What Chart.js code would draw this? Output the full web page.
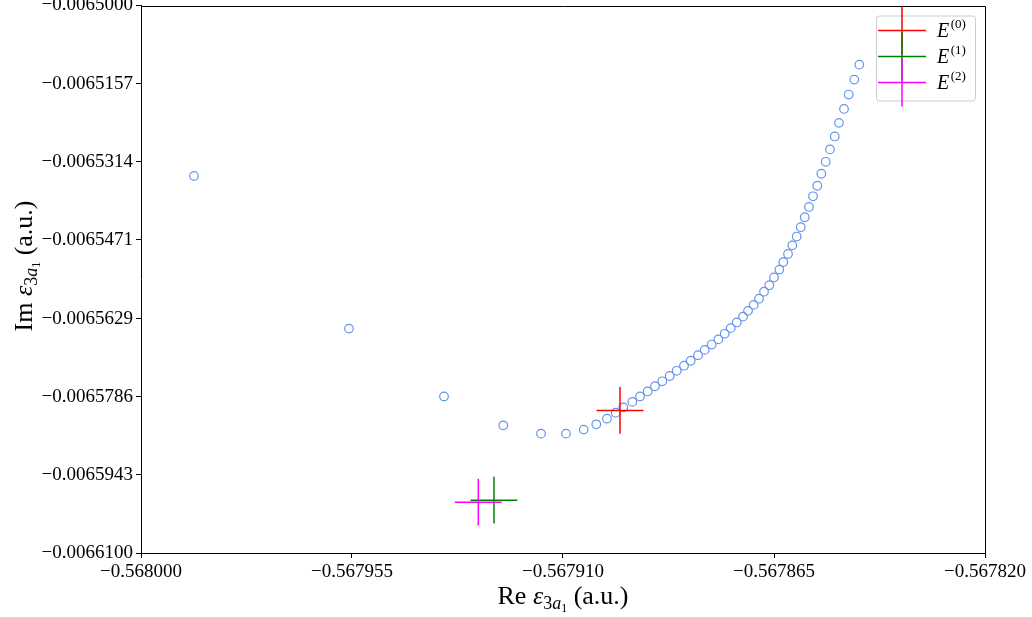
<!DOCTYPE html>
<html>
<head>
<meta charset="utf-8">
<script src="https://cdn.jsdelivr.net/npm/chart.js@4/dist/chart.umd.min.js"></script>
<style>
  html, body { margin: 0; padding: 0; background: #ffffff; }
  #c { display: block; }
</style>
</head>
<body>
<canvas id="c" width="1032" height="617"></canvas>
<script>
// ---- data ----
const reValues = [
  -0.56798870, -0.56795564, -0.56793538, -0.56792273, -0.56791469, -0.56790936,
  -0.56790559, -0.56790290, -0.56790062, -0.56789876, -0.56789714, -0.56789522,
  -0.56789358, -0.56789194, -0.56789038, -0.56788882, -0.56788724, -0.56788575,
  -0.56788419, -0.56788277, -0.56788121, -0.56787978, -0.56787829, -0.56787688,
  -0.56787551, -0.56787423, -0.56787295, -0.56787161, -0.56787054, -0.56786933,
  -0.56786820, -0.56786713, -0.56786600, -0.56786500, -0.56786387, -0.56786302,
  -0.56786201, -0.56786110, -0.56786016, -0.56785930, -0.56785845, -0.56785754,
  -0.56785668, -0.56785577, -0.56785491, -0.56785397, -0.56785306, -0.56785205,
  -0.56785114, -0.56785007, -0.56784907, -0.56784787, -0.56784680
];
const imValues = [
  -0.00653426, -0.00656492, -0.00657854, -0.00658435, -0.00658602, -0.00658602,
  -0.00658521, -0.00658415, -0.00658301, -0.00658181, -0.00658075, -0.00657964,
  -0.00657854, -0.00657754, -0.00657650, -0.00657550, -0.00657444, -0.00657339,
  -0.00657237, -0.00657137, -0.00657027, -0.00656919, -0.00656812, -0.00656708,
  -0.00656596, -0.00656482, -0.00656368, -0.00656251, -0.00656135, -0.00656015,
  -0.00655891, -0.00655750, -0.00655620, -0.00655464, -0.00655306, -0.00655155,
  -0.00654993, -0.00654819, -0.00654642, -0.00654454, -0.00654254, -0.00654047,
  -0.00653833, -0.00653621, -0.00653380, -0.00653140, -0.00652891, -0.00652631,
  -0.00652358, -0.00652078, -0.00651789, -0.00651489, -0.00651188
];

const eLabels = ['E', 'E', 'E'];
const eSuper = ['(0)', '(1)', '(2)'];
const eRe = [-0.56789784, -0.56792472, -0.56792806];
const eIm = [-0.00658135, -0.00659938, -0.00659978];
const eReErr = [0.0000050, 0.0000050, 0.0000050];
const eImErr = [0.0000047, 0.0000047, 0.0000047];
const eColors = ['#ff0000', '#008000', '#ff00ff'];

const xTickValues = [-0.568000, -0.567955, -0.567910, -0.567865, -0.567820];
const xTickLabels = ['\u22120.568000', '\u22120.567955', '\u22120.567910', '\u22120.567865', '\u22120.567820'];
const yTickValues = [-0.0065000, -0.0065157, -0.0065314, -0.0065471, -0.0065629, -0.0065786, -0.0065943, -0.0066100];
const yTickLabels = ['\u22120.0065000', '\u22120.0065157', '\u22120.0065314', '\u22120.0065471',
                     '\u22120.0065629', '\u22120.0065786', '\u22120.0065943', '\u22120.0066100'];

const xMin = -0.568000, xMax = -0.567820;
const yMin = -0.0066100, yMax = -0.0065000;

const FONT = '"Liberation Serif", "Times New Roman", serif';

// ---- build datasets ----
const scatterData = reValues.map((x, i) => ({ x: x, y: imValues[i] }));
const datasets = [{
  type: 'scatter',
  data: scatterData,
  pointRadius: 4.3,
  pointBorderWidth: 1.2,
  pointBackgroundColor: 'rgba(0,0,0,0)',
  pointBorderColor: '#6495ED',
  showLine: false,
  order: 10
}];
eRe.forEach((cx, i) => {
  const cy = eIm[i];
  datasets.push({
    type: 'scatter',
    data: [
      { x: cx - eReErr[i], y: cy }, { x: cx + eReErr[i], y: cy },
      { x: null, y: null },
      { x: cx, y: cy - eImErr[i] }, { x: cx, y: cy + eImErr[i] }
    ],
    showLine: true,
    spanGaps: false,
    borderColor: eColors[i],
    borderWidth: 1.5,
    pointRadius: 0,
    fill: false,
    order: 5 - i
  });
});

// ---- helpers ----
function drawRich(ctx, parts, cx, cy, rotate) {
  ctx.save();
  ctx.translate(cx, cy);
  if (rotate) ctx.rotate(-Math.PI / 2);
  let total = 0;
  parts.forEach(p => { ctx.font = p.f; p.w = ctx.measureText(p.t).width; total += p.w; });
  let x = -total / 2;
  ctx.fillStyle = '#000';
  ctx.textBaseline = 'alphabetic';
  ctx.textAlign = 'left';
  parts.forEach(p => { ctx.font = p.f; ctx.fillText(p.t, x, p.dy || 0); x += p.w; });
  ctx.restore();
}

function titleParts(prefix) {
  return [
    { t: prefix + ' ', f: '26px ' + FONT },
    { t: '\u03B5', f: 'italic 26px ' + FONT },
    { t: '3', f: '18px ' + FONT, dy: 5 },
    { t: 'a', f: 'italic 18px ' + FONT, dy: 5 },
    { t: '1', f: '12px ' + FONT, dy: 8 },
    { t: ' (a.u.)', f: '26px ' + FONT }
  ];
}

const decorPlugin = {
  id: 'decor',
  afterDraw(chart) {
    const ctx = chart.ctx;
    const a = chart.chartArea;
    // top and right spines
    ctx.save();
    ctx.strokeStyle = '#000';
    ctx.lineWidth = 1;
    ctx.beginPath();
    ctx.moveTo(Math.round(a.left) + 0.5, Math.round(a.top) + 0.5);
    ctx.lineTo(Math.round(a.right) + 0.5, Math.round(a.top) + 0.5);
    ctx.lineTo(Math.round(a.right) + 0.5, Math.round(a.bottom) + 0.5);
    ctx.stroke();
    ctx.restore();

    // axis titles
    drawRich(ctx, titleParts('Re'), (a.left + a.right) / 2, 604, false);
    drawRich(ctx, titleParts('Im'), 32, 266, true);

    // legend
    ctx.save();
    const bx = a.right - 108.5, by = a.top + 10.5, bw = 99, bh = 85;
    ctx.beginPath();
    ctx.roundRect(bx, by, bw, bh, 3);
    ctx.fillStyle = 'rgba(255,255,255,0.8)';
    ctx.fill();
    ctx.strokeStyle = '#cccccc';
    ctx.lineWidth = 1;
    ctx.stroke();
    eLabels.forEach((lab, i) => {
      const y = a.top + 25 + i * 26;
      ctx.strokeStyle = eColors[i];
      ctx.lineWidth = 1.5;
      ctx.beginPath();
      ctx.moveTo(a.right - 107, y);
      ctx.lineTo(a.right - 59, y);
      ctx.moveTo(a.right - 83, y - 24);
      ctx.lineTo(a.right - 83, y + 24);
      ctx.stroke();
      ctx.fillStyle = '#000';
      ctx.textAlign = 'left';
      ctx.textBaseline = 'alphabetic';
      ctx.font = 'italic 20px ' + FONT;
      const tx = a.right - 48;
      ctx.fillText(lab, tx, y + 6);
      const w = ctx.measureText(lab).width;
      ctx.font = '13px ' + FONT;
      ctx.fillText(eSuper[i], tx + w + 1.5, y - 3);
    });
    ctx.restore();
  }
};

Chart.defaults.font.family = FONT;
Chart.defaults.color = '#000';

new Chart(document.getElementById('c'), {
  type: 'scatter',
  data: { datasets: datasets },
  options: {
    responsive: false,
    animation: false,
    devicePixelRatio: 1,
    events: [],
    layout: { padding: { left: 0, right: 47, top: 4, bottom: 0 } },
    plugins: { legend: { display: false }, tooltip: { enabled: false } },
    scales: {
      x: {
        type: 'linear', position: 'bottom', min: xMin, max: xMax,
        afterBuildTicks: s => { s.ticks = xTickValues.map(v => ({ value: v })); },
        afterFit: s => { s.height = 64; s.paddingLeft = 0; s.paddingRight = 0; },
        ticks: {
          callback: (v, i) => xTickLabels[i],
          font: { family: FONT, size: 19 }, color: '#000',
          padding: 3, maxRotation: 0, minRotation: 0, autoSkip: false
        },
        grid: { drawOnChartArea: false, drawTicks: true, tickLength: 5, color: '#000', lineWidth: 1 },
        border: { display: true, color: '#000', width: 1 },
        title: { display: false }
      },
      y: {
        type: 'linear', position: 'left', min: yMin, max: yMax,
        afterBuildTicks: s => { s.ticks = yTickValues.map(v => ({ value: v })); },
        afterFit: s => { s.width = 141; s.paddingTop = 0; s.paddingBottom = 0; },
        ticks: {
          callback: (v, i) => yTickLabels[i],
          font: { family: FONT, size: 19 }, color: '#000',
          padding: 3, autoSkip: false
        },
        grid: { drawOnChartArea: false, drawTicks: true, tickLength: 5, color: '#000', lineWidth: 1 },
        border: { display: true, color: '#000', width: 1 },
        title: { display: false }
      }
    }
  },
  plugins: [decorPlugin]
});
</script>
</body>
</html>
